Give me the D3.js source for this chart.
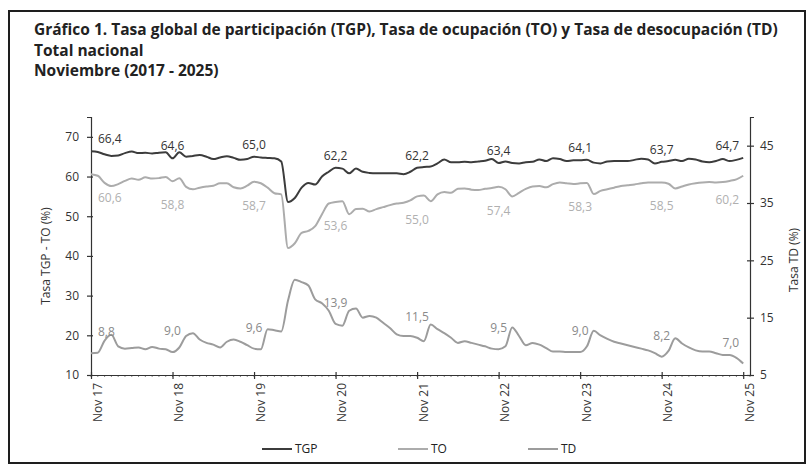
<!DOCTYPE html>
<html>
  <head>
    <meta charset="utf-8">
    <script type="text/javascript" src="https://cdn.jsdelivr.net/npm/d3@7"></script>
    <style>
      body { margin: 0; background: #fff; }
      text { font-family: "Open Sans", sans-serif; }
    </style>
  </head>
  <body>
    <div id="viz"></div>
    <script type="text/javascript">
      // monthly values, Nov 2017 .. Nov 2025 (97 months)
      const tickLabels = ["Nov 17", "Nov 18", "Nov 19", "Nov 20", "Nov 21", "Nov 22", "Nov 23", "Nov 24", "Nov 25"];

      const tgp = [
        66.4, 66.2, 65.6, 65.2, 65.3, 65.9, 66.3, 65.9, 66.0, 65.8, 66.0, 66.1,
        64.6, 66.1, 65.0, 65.2, 65.4, 65.0, 64.4, 64.8, 65.1, 64.7, 64.2, 64.4,
        65.0, 64.8, 64.7, 64.6, 63.8, 53.6, 54.6, 57.2, 58.4, 58.0, 60.0, 61.2,
        62.2, 62.0, 60.8, 62.0, 61.2, 60.9, 60.8, 60.8, 60.8, 60.8, 60.6, 61.2,
        62.2, 62.4, 62.5, 63.3, 64.3, 63.6, 63.6, 63.7, 63.6, 63.8, 64.0, 64.4,
        63.4, 63.8, 63.4, 63.3, 63.6, 63.7, 64.3, 63.9, 64.6, 64.4, 63.9, 64.1,
        64.1, 64.2, 63.5, 63.3, 63.8, 63.9, 63.9, 63.9, 64.2, 64.5, 64.3, 63.3,
        63.7, 63.9, 64.2, 63.9, 64.5, 64.3, 63.8, 63.6, 63.9, 64.4, 63.9, 64.2,
        64.7
      ];

      const to = [
        60.6, 60.2, 58.4, 57.6, 58.1, 58.9, 59.5, 59.2, 59.8, 59.5, 59.6, 59.9,
        58.8, 59.6, 57.4, 56.8, 57.2, 57.5, 57.7, 58.3, 58.3, 57.3, 57.0, 57.7,
        58.7, 58.3, 57.2, 55.8, 55.5, 42.0, 43.2, 45.8, 46.3, 47.5, 50.5, 53.2,
        53.6, 53.8, 50.5, 51.8, 51.9, 51.2, 51.8, 52.3, 52.8, 53.2, 53.4, 54.0,
        55.0, 55.2, 53.8, 55.5, 56.1, 55.9, 56.9, 57.0, 56.7, 56.6, 56.9, 57.1,
        57.4, 56.8, 55.0, 55.9, 56.9, 57.5, 57.6, 57.3, 58.1, 58.5, 58.3, 58.1,
        58.3, 58.4, 55.6, 56.4, 56.8, 57.2, 57.6, 57.8, 58.0, 58.3, 58.5, 58.5,
        58.5, 58.2, 57.0, 57.5, 58.0, 58.3, 58.5, 58.6, 58.5, 58.6, 58.9, 59.3,
        60.2
      ];

      const td = [
        8.8, 8.9, 11.0, 12.0, 10.0, 9.6, 9.7, 9.8, 9.5, 9.9, 9.6, 9.5,
        9.0, 9.8, 11.8, 12.3, 11.2, 10.6, 10.3, 9.8, 10.8, 11.2, 10.8, 10.2,
        9.6, 9.5, 13.0, 12.8, 12.6, 18.0, 21.6, 21.2, 20.6, 18.2, 17.5, 16.2,
        13.9, 13.6, 16.2, 16.6, 15.0, 15.3, 15.0, 14.1, 13.2, 12.1, 11.8, 11.8,
        11.5, 10.9, 13.8, 13.0, 12.3, 11.5, 10.6, 10.9, 10.6, 10.3, 10.0, 9.6,
        9.5, 10.0, 13.3, 11.8, 10.2, 10.6, 10.3, 9.7, 9.1, 9.1, 9.0, 9.0,
        9.0, 10.0, 12.7, 11.9, 11.3, 10.8, 10.5, 10.2, 9.9, 9.6, 9.3, 8.8,
        8.2, 9.2, 11.4, 10.5, 9.8, 9.3, 9.1, 9.1, 8.8, 8.5, 8.5, 8.0,
        7.0
      ];

      const leftTicks = [10, 20, 30, 40, 50, 60, 70];
      const rightTicks = [5, 15, 25, 35, 45];
      const novIdx = d3.range(0, 97, 12);

      const width = 808;
      const height = 474;

      const svg = d3.select("#viz")
        .append("svg")
        .attr("width", width)
        .attr("height", height);

      // frame
      svg.append("rect")
        .attr("x", 9).attr("y", 11)
        .attr("width", 796).attr("height", 452)
        .style("fill", "#fff")
        .style("stroke", "#1e1e1e")
        .style("stroke-width", 2);

      // title
      const titles = [
        "Gráfico 1. Tasa global de participación (TGP), Tasa de ocupación (TO) y Tasa de desocupación (TD)",
        "Total nacional",
        "Noviembre (2017 - 2025)"
      ];
      const titleSel = svg.selectAll("text.title")
        .data(titles)
        .enter()
        .append("text")
        .attr("class", "title")
        .attr("x", 34)
        .attr("y", (d, i) => 35 + i * 20.5)
        .style("font-weight", "bold")
        .style("font-size", "13px")
        .style("fill", "#222")
        .text(d => d);
      const firstLen = titleSel.node().getComputedTextLength();
      titleSel.style("font-size", (13 * 744 / firstLen) + "px");

      const x = d3.scaleLinear().domain([0, 97]).range([91, 750]);
      const yL = d3.scaleLinear().domain([10, 75]).range([375, 117]);
      const yR = d3.scaleLinear().domain([5, 50]).range([375, 117]);

      function styleAxis(g){
        g.select(".domain").style("stroke", "#333").style("stroke-width", 1.2);
        g.selectAll(".tick line").style("stroke", "#333").style("stroke-width", 1.2);
        g.selectAll(".tick text")
          .style("font-size", "12px")
          .style("fill", "#333")
          .style("font-family", "'Open Sans', sans-serif");
      }

      // minor month ticks on the x axis
      svg.append("g")
        .selectAll("line")
        .data(d3.range(0, 98))
        .enter()
        .append("line")
        .attr("x1", d => x(d)).attr("x2", d => x(d))
        .attr("y1", 375).attr("y2", 377)
        .style("stroke", "#666")
        .style("stroke-width", 0.8);

      const xAxis = svg.append("g")
        .attr("transform", "translate(0,375)")
        .call(d3.axisBottom(x).tickValues(novIdx).tickSizeOuter(0)
          .tickFormat(d => tickLabels[d / 12]));
      styleAxis(xAxis);
      xAxis.selectAll(".tick line").attr("y1", -3).attr("y2", 4);
      xAxis.selectAll(".tick text")
        .attr("text-anchor", "end")
        .attr("transform", "translate(6,8) rotate(-90)")
        .attr("x", 0).attr("y", 0)
        .attr("dy", "0.35em");

      const leftAxis = svg.append("g")
        .attr("transform", "translate(91,0)")
        .call(d3.axisLeft(yL).tickValues(leftTicks).tickSizeOuter(0).tickSize(4).tickPadding(8));
      styleAxis(leftAxis);
      leftAxis.selectAll(".tick line").attr("x1", 2);

      const rightAxis = svg.append("g")
        .attr("transform", "translate(750,0)")
        .call(d3.axisRight(yR).tickValues(rightTicks).tickSizeOuter(0).tickSize(4).tickPadding(6));
      styleAxis(rightAxis);
      rightAxis.selectAll(".tick line").attr("x1", -3);

      svg.append("text")
        .attr("transform", "translate(50,256) rotate(-90)")
        .attr("text-anchor", "middle")
        .style("font-size", "12px")
        .style("fill", "#333")
        .text("Tasa TGP - TO (%)");

      svg.append("text")
        .attr("transform", "translate(798,260) rotate(-90)")
        .attr("text-anchor", "middle")
        .style("font-size", "12px")
        .style("fill", "#333")
        .text("Tasa TD (%)");

      const series = [
        { name: "TGP", values: tgp, y: yL, color: "#3c3c3c", labelColor: "#333", dy: -8, width: 2 },
        { name: "TO", values: to, y: yL, color: "#acacac", labelColor: "#b0b0b0", dy: 28, width: 2 },
        { name: "TD", values: td, y: yR, color: "#9c9c9c", labelColor: "#8a8a8a", dy: -17, width: 2 }
      ];

      const fmt = d3.format(".1f");

      series.forEach(s => {
        const line = d3.line()
          .x((d, i) => x(i))
          .y(d => s.y(d))
          .curve(d3.curveMonotoneX);

        svg.append("path")
          .datum(s.values)
          .attr("d", line)
          .style("fill", "none")
          .style("stroke", s.color)
          .style("stroke-width", s.width)
          .style("stroke-linejoin", "round");

        svg.append("g")
          .selectAll("text")
          .data(novIdx)
          .enter()
          .append("text")
          .attr("x", i => i === 0 ? x(i) + 7 : i === 96 ? x(i) - 4 : x(i))
          .attr("y", i => s.y(s.values[i]) + s.dy)
          .attr("text-anchor", i => i === 0 ? "start" : i === 96 ? "end" : "middle")
          .style("font-size", "12px")
          .style("fill", s.labelColor)
          .text(i => fmt(s.values[i]).replace(".", ","));
      });

      // legend
      const legendX = [262, 398, 528];
      const legend = svg.append("g")
        .selectAll("g")
        .data(series)
        .enter()
        .append("g")
        .attr("transform", (d, i) => "translate(" + legendX[i] + ",449)");
      legend.append("line")
        .attr("x1", 0).attr("x2", 30)
        .style("stroke", d => d.color)
        .style("stroke-width", 2);
      legend.append("text")
        .attr("x", 33)
        .attr("dy", "0.35em")
        .style("font-size", "12px")
        .style("fill", "#222")
        .text(d => d.name);
    </script>
  </body>
</html>
